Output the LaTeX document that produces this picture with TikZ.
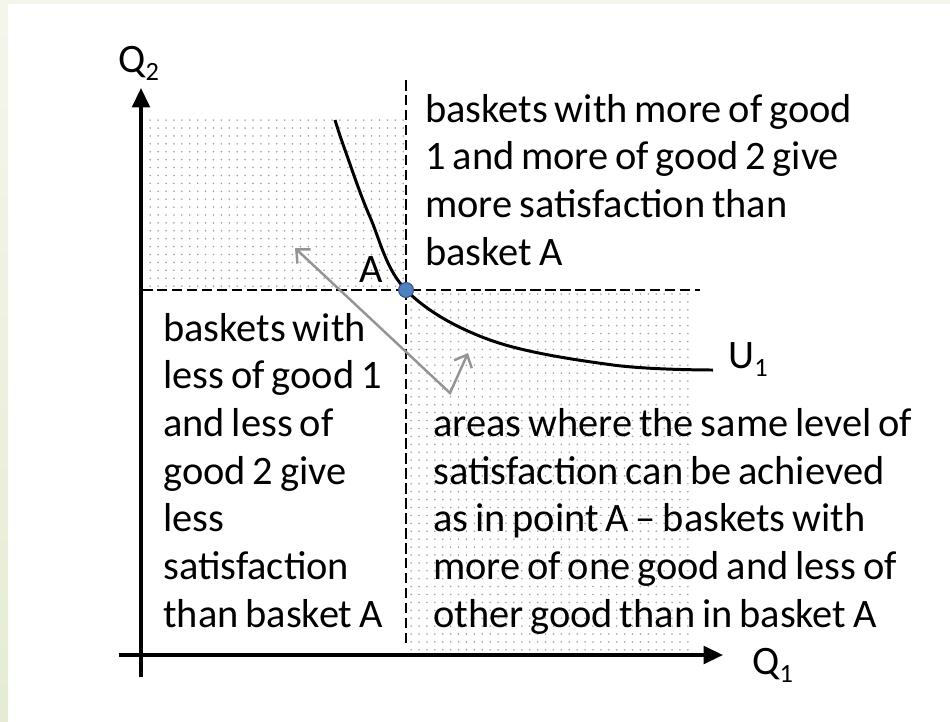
\documentclass[tikz,border=0pt]{standalone}
\usepackage{fontspec}
\setmainfont{Carlito}
\usetikzlibrary{arrows.meta,patterns.meta}
\definecolor{pointblue}{RGB}{79, 129, 189}
\definecolor{pointedge}{RGB}{47, 82, 143}
\definecolor{edgetop}{RGB}{244, 246, 235}
\definecolor{edgebottom}{RGB}{229, 236, 211}
\newcommand{\regionfont}{\fontsize{23pt}{27.1pt}\selectfont\spaceskip=0.17em plus 0.05em\relax}
\newcommand{\lowsub}[1]{\raisebox{-0.22em}{\fontsize{15pt}{15pt}\selectfont #1}}
\begin{document}
\begin{tikzpicture}[x=0.02cm, y=-0.02cm,
    axis/.style={line width=1.9pt, -{Triangle[length=11pt, width=10pt]}},
    guide/.style={line width=0.8pt, dash pattern=on 6pt off 2.5pt},
    dotted area/.style={pattern={Dots[distance=4.5pt, radius=0.5pt]}, pattern color=black!38},
    indiff/.style={line width=1.7pt},
    shift arrow/.style={line width=1.4pt, black!42, {Straight Barb[length=6pt, width=11pt]}-{Straight Barb[length=6pt, width=11pt]}},
    txt/.style={font=\regionfont, align=left, inner sep=0pt, anchor=base west},
    dot/.style={circle, fill=pointblue, draw=pointedge, line width=0.6pt, minimum size=8.5pt, inner sep=0pt}]

% Canvas and slide edge
\useasboundingbox (0,0) rectangle (950,721);
\fill[white] (0,0) rectangle (950,721);
\shade[top color=edgetop, bottom color=edgebottom] (0,0) rectangle (8,721);
\fill[edgetop] (0,0) rectangle (950,4);

% Dotted regions
\fill[dotted area] (142,118) rectangle (406,290);
\fill[dotted area] (406,290) rectangle (693,655);

% Axes
\coordinate (ybot) at (141,677);
\coordinate (ytop) at (141,88);
\coordinate (xleft) at (119,655);
\coordinate (xright) at (723,655);
\draw[axis] (ybot) -- (ytop);
\draw[axis] (xleft) -- (xright);
\node[txt] (q2) at (118,72) {Q\lowsub{2}};
\node[txt] (q1) at (752,674) {Q\lowsub{1}};

% Guide lines through A
\coordinate (pA) at (406,290);
\coordinate (vtop) at (406,80);
\coordinate (vbot) at (406,645);
\coordinate (hleft) at (142,290);
\coordinate (hright) at (700,290);
\draw[guide] (vtop) -- (vbot);
\draw[guide] (hleft) -- (hright);

% Indifference curve U_1
\draw[indiff] plot[smooth, tension=0.6] coordinates
   {(335,120) (345,150) (370,217) (406,290) (490,340) (613,365) (713,370)};
\node[txt] (u1) at (728,368) {U\lowsub{1}};

% Point A
\node[dot] (A) at (pA) {};
\node[txt, anchor=base] (alabel) at (371,282) {A};

% Substitution arrow
\coordinate (tipup) at (295,248);
\coordinate (bend) at (450,393);
\coordinate (tipdown) at (468,353);
\draw[shift arrow] (tipup) -- (bend) -- (tipdown);

% Region texts (anchored at the last line's baseline)
\node[txt] (more) at (425,265) {baskets with more of good\\1 and more of good 2 give\\more satisfaction than\\basket A};
\node[txt] (less) at (163,627) {baskets with\\less of good 1\\and less of\\good 2 give\\less\\satisfaction\\than basket A};
\node[txt] (same) at (433,627) {areas where the same level of\\satisfaction can be achieved\\as in point A -- baskets with\\more of one good and less of\\other good than in basket A};

\end{tikzpicture}
\end{document}
